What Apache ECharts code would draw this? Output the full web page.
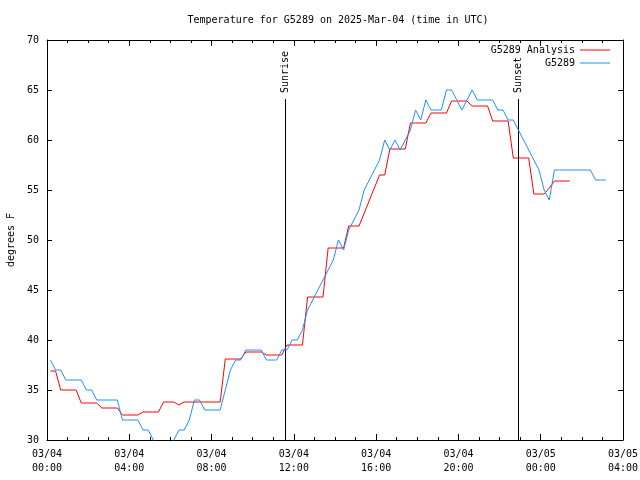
<!DOCTYPE html>
<html><head><meta charset="utf-8">
<script src="https://cdn.jsdelivr.net/npm/echarts@6/dist/echarts.min.js"></script>
<style>html,body{margin:0;padding:0;background:#fff}#c{width:640px;height:480px}</style>
</head><body><div id="c"></div>
<script>
// Sample times (UTC), 15-minute observations; rollover to next day detected when hour decreases
const sampleTimes = [
"00:10","00:25","00:40","00:55","01:10","01:25","01:40","01:55","02:10","02:25","02:40","02:55",
"03:10","03:25","03:40","03:55","04:10","04:25","04:40","04:55","05:10","05:25","05:40","05:55",
"06:10","06:25","06:40","06:55","07:10","07:25","07:40","07:55","08:10","08:25","08:40","08:55",
"09:10","09:25","09:40","09:55","10:10","10:25","10:40","10:55","11:10","11:25","11:40","11:55",
"12:10","12:25","12:40","12:55","13:10","13:25","13:40","13:55","14:10","14:25","14:40","14:55",
"15:10","15:25","15:40","15:55","16:10","16:25","16:40","16:55","17:10","17:25","17:40","17:55",
"18:10","18:25","18:40","18:55","19:10","19:25","19:40","19:55","20:10","20:25","20:40","20:55",
"21:10","21:25","21:40","21:55","22:10","22:25","22:40","22:55","23:10","23:25","23:40","23:55",
"00:10","00:25","00:40","00:55","01:10","01:25","01:40","01:55","02:10","02:25","02:40","02:55",
"03:10"];

// G5289 station observations (deg F)
const stationTemps = [
38,37,37,36,36,36,36,35,35,34,34,34,
34,34,32,32,32,32,31,31,30,29,29,29,
30,31,31,32,34,34,33,33,33,33,35,37,
38,38,39,39,39,39,38,38,38,39,39,40,
40,41,43,44,45,46,47,48,50,49,51,52,
53,55,56,57,58,60,59,60,59,60,61,63,
62,64,63,63,63,65,65,64,63,64,65,64,
64,64,64,63,63,62,62,61,60,59,58,57,
55,54,57,57,57,57,57,57,57,57,56,56,
56];

// G5289 Analysis (deg F); null = no value
const analysisTemps = [
36.9,36.9,35.0,35.0,35.0,35.0,33.7,33.7,33.7,33.7,33.2,33.2,
33.2,33.2,32.5,32.5,32.5,32.5,32.8,32.8,32.8,32.8,33.8,33.8,
33.8,33.5,33.8,33.8,33.8,33.8,33.8,33.8,33.8,33.8,38.1,38.1,
38.1,38.1,38.8,38.8,38.8,38.8,38.5,38.5,38.5,38.5,39.5,39.5,
39.5,39.5,44.3,44.3,44.3,44.3,49.2,49.2,49.2,49.2,51.4,51.4,
51.4,null,null,null,56.5,56.5,59.1,59.1,59.1,59.1,61.7,61.7,
61.7,61.7,62.7,62.7,62.7,62.7,63.9,63.9,63.9,63.9,63.4,63.4,
63.4,63.4,61.9,61.9,61.9,61.9,58.2,58.2,58.2,58.2,54.6,54.6,
54.6,55.2,55.9,55.9,55.9,55.9];

const xTickLabels = ['03/04\n00:00','03/04\n04:00','03/04\n08:00','03/04\n12:00',
                     '03/04\n16:00','03/04\n20:00','03/05\n00:00','03/05\n04:00'];
const sunEvents = [['Sunrise','11:35'],['Sunset','22:55']];

function hm(s){const p=s.split(':');return +p[0]+ +p[1]/60;}
const sampleX=[];(function(){let day=0,prev=-1;sampleTimes.forEach(s=>{const h=hm(s);if(h<prev)day++;prev=h;sampleX.push(day*24+h);});})();

const FONT='"DejaVu Sans Mono", "Liberation Mono", monospace';
const markerTop=64.1;

const chart=echarts.init(document.getElementById('c'),null,{renderer:'canvas'});
const axisCommonX={type:'value',min:0,max:28,interval:4,
  axisLine:{show:true,onZero:false,lineStyle:{color:'#000',width:1}},
  axisTick:{show:true,inside:true,length:6,lineStyle:{color:'#000'}},
  minorTick:{show:true,splitNumber:4,length:3,lineStyle:{color:'#000'}},
  splitLine:{show:false},minorSplitLine:{show:false}};
const axisCommonY={type:'value',min:30,max:70,interval:5,
  axisLine:{show:true,onZero:false,lineStyle:{color:'#000',width:1}},
  axisTick:{show:true,inside:true,length:5,lineStyle:{color:'#000'}},
  splitLine:{show:false}};

chart.setOption({
  animation:false,
  backgroundColor:'#fff',
  title:{text:'Temperature for G5289 on 2025-Mar-04 (time in UTC)',left:333,top:10,textAlign:'center',
    textStyle:{fontFamily:FONT,fontSize:10,fontWeight:'normal',color:'#000'}},
  legend:{data:['G5289 Analysis','G5289'],orient:'vertical',right:30,top:45,align:'right',
    icon:'rect',itemWidth:30,itemHeight:1,itemGap:3,padding:0,
    textStyle:{fontFamily:FONT,fontSize:10,color:'#000'}},
  grid:{left:47,right:17,top:40,bottom:40,containLabel:false,outerBoundsMode:'none'},
  xAxis:[
    Object.assign({},axisCommonX,{position:'bottom',
      axisLabel:{show:true,margin:7,fontFamily:FONT,fontSize:10,color:'#000',lineHeight:14,
        formatter:v=>xTickLabels[Math.round(v/4)]}}),
    Object.assign({},axisCommonX,{position:'top',axisLabel:{show:false}})
  ],
  yAxis:[
    Object.assign({},axisCommonY,{position:'left',
      axisLabel:{show:true,margin:8,fontFamily:FONT,fontSize:10,color:'#000'},
      name:'degrees F',nameLocation:'middle',nameRotate:90,nameGap:31,
      nameTextStyle:{fontFamily:FONT,fontSize:10,color:'#000'}}),
    Object.assign({},axisCommonY,{position:'right',axisLabel:{show:false}})
  ],
  series:[
    {name:'G5289 Analysis',type:'line',symbol:'none',connectNulls:true,color:'#ff0000',
      lineStyle:{width:1,color:'#ff0000'},
      data:analysisTemps.map((v,i)=>[sampleX[i],v])},
    {name:'G5289',type:'line',symbol:'none',color:'#1e90ff',
      lineStyle:{width:1,color:'#1e90ff'},
      data:stationTemps.map((v,i)=>[sampleX[i],v])},
    {name:'sun',type:'custom',silent:true,
      data:sunEvents.map(e=>[hm(e[1])]),
      renderItem:function(params,api){
        const x=api.value(0);
        const top=api.coord([x,markerTop]);
        const bot=api.coord([x,30]);
        const px=Math.round(top[0])+0.5;
        return {type:'group',children:[
          {type:'line',shape:{x1:px,y1:Math.round(top[1]),x2:px,y2:bot[1]},style:{stroke:'#000',lineWidth:1}},
          {type:'text',x:px,y:top[1]-6,rotation:Math.PI/2,
            style:{text:sunEvents[params.dataIndex][0],fill:'#000',font:'10px '+FONT,align:'left',verticalAlign:'middle'}}
        ]};
      }}
  ]
});
</script></body></html>
